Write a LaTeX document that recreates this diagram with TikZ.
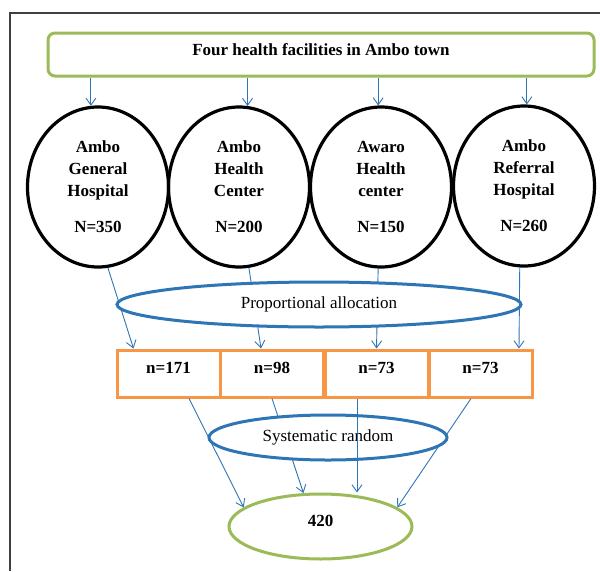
\documentclass[tikz,border=0pt]{standalone}
\usepackage{fontspec}
\setmainfont{Liberation Serif}
\usetikzlibrary{shapes.geometric,arrows.meta}
\definecolor{lgreen}{RGB}{155,187,89}
\definecolor{lblue}{RGB}{46,117,182}
\definecolor{lorange}{RGB}{247,150,70}
\begin{document}
\begin{tikzpicture}[x=1pt, y=-1pt,
  every node/.style={font=\fontsize{17}{22}\selectfont, align=center, inner sep=0pt},
  site/.style={ellipse, draw, line width=3.2pt, minimum width=141pt, minimum height=160pt,
    font=\fontsize{17}{22}\selectfont\bfseries},
  share/.style={rectangle, draw=lorange, line width=3pt, minimum width=103pt, minimum height=47pt,
    text height=12pt, text depth=12pt, font=\fontsize{17}{22}\selectfont\bfseries},
  method/.style={ellipse, draw=lblue, line width=3pt, fill=white, minimum height=45pt},
  arr/.style={lblue, line width=0.9pt, -{Straight Barb[length=7pt,width=10pt]}}]
  \useasboundingbox (0,0) rectangle (600,571);
  \draw[line width=1.5pt, black!75] (10,571) -- (10,13) -- (600,13);
  \node[draw=lgreen, line width=3pt, rounded corners=7pt, minimum width=546pt, minimum height=43pt,
    text height=12pt, text depth=10pt, font=\fontsize{17}{22}\selectfont\bfseries]
    (top) at (321,54.5) {Four health facilities in Ambo town};
  \node[site] (e1) at (98,187) {Ambo\\General\\Hospital\\[14pt]N=350};
  \node[site] (e2) at (239,187) {Ambo\\Health\\Center\\[14pt]N=200};
  \node[site] (e3) at (381,187) {Awaro\\Health\\center\\[14pt]N=150};
  \node[site] (e4) at (524,186) {Ambo\\Referral\\Hospital\\[14pt]N=260};
  \node[share] (b1) at (168.5,373.5) {n=171};
  \node[share] (b2) at (272,373.5) {n=98};
  \node[share] (b3) at (376.5,373.5) {n=73};
  \node[share] (b4) at (480.5,373.5) {n=73};
  \node[ellipse, draw=lgreen, line width=3pt, minimum width=183pt, minimum height=65pt,
    text height=12pt, text depth=12pt, font=\fontsize{17}{22}\selectfont\bfseries]
    (total) at (320.5,526.5) {420};
  \draw[arr] (top.south -| e1.95) -- (e1.95);
  \draw[arr] (top.south -| e2.84) -- (e2.84);
  \draw[arr] (top.south -| e3.92) -- (e3.92);
  \draw[arr] (top.south -| e4.88.5) -- (e4.88.5);
  \draw[arr] (e1.-83) -- ([xshift=-35pt]b1.north);
  \draw[arr] (e2.-83) -- ([xshift=-11pt]b2.north);
  \draw[arr] (e3.-92) -- (b3.north);
  \draw[arr] (e4.-93) -- ([xshift=38.5pt]b4.north);
  \draw[arr] ([xshift=20.5pt]b1.south) -- (total.166);
  \draw[arr] (b2.south) -- (total.117);
  \draw[arr] ([xshift=-9.5pt]b4.south) -- (total.14);
  \node[method, minimum width=404pt] (alloc) at (319,304.5) {Proportional allocation};
  \node[method, minimum width=238pt] (sys) at (328,437.5) {Systematic random};
  \draw[arr] ([xshift=-19.5pt]b3.south) -- ([xshift=-19.5pt]b3.south |- total.north);
\end{tikzpicture}
\end{document}
